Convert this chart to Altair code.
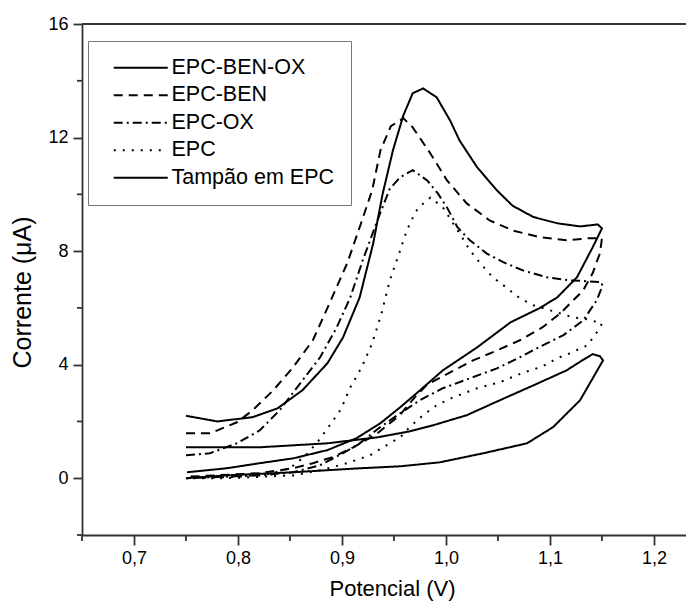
import altair as alt
import pandas as pd

# ---- data (potential in V, current in µA) ----
series_names = ["EPC-BEN-OX", "EPC-BEN", "EPC-OX", "EPC", "Tampão em EPC"]

benox_fwd_x = [0.75, 0.78, 0.814, 0.838, 0.862, 0.886, 0.901, 0.917, 0.930, 0.939, 0.949, 0.959, 0.968, 0.978, 0.991, 1.004, 1.013, 1.030, 1.049, 1.064, 1.084, 1.107, 1.129, 1.146, 1.15]
benox_fwd_y = [2.2, 2.0, 2.15, 2.46, 3.1, 4.05, 4.96, 6.37, 8.27, 10.0, 11.55, 12.78, 13.56, 13.73, 13.42, 12.6, 11.9, 10.95, 10.14, 9.6, 9.2, 8.98, 8.87, 8.94, 8.8]
benox_rev_x = [1.141, 1.126, 1.107, 1.090, 1.062, 1.030, 0.997, 0.972, 0.956, 0.937, 0.914, 0.886, 0.853, 0.821, 0.789, 0.751]
benox_rev_y = [8.13, 7.08, 6.37, 5.99, 5.49, 4.61, 3.8, 3.0, 2.5, 1.94, 1.41, 0.99, 0.7, 0.53, 0.35, 0.21]

ben_fwd_x = [0.75, 0.773, 0.799, 0.814, 0.834, 0.853, 0.872, 0.888, 0.905, 0.917, 0.929, 0.937, 0.947, 0.959, 0.968, 0.985, 1.001, 1.02, 1.042, 1.064, 1.09, 1.116, 1.136, 1.15]
ben_fwd_y = [1.58, 1.58, 1.97, 2.39, 3.1, 3.91, 4.86, 6.16, 7.57, 8.84, 10.14, 11.55, 12.4, 12.68, 12.36, 11.44, 10.49, 9.68, 9.08, 8.73, 8.49, 8.38, 8.45, 8.45]
ben_rev_x = [1.148, 1.141, 1.132, 1.11, 1.093, 1.071, 1.049, 1.026, 1.004, 0.982, 0.970, 0.955, 0.934, 0.911, 0.891, 0.872, 0.853, 0.821, 0.75]
ben_rev_y = [7.92, 7.22, 6.62, 5.81, 5.32, 4.86, 4.5, 4.15, 3.73, 3.3, 2.85, 2.2, 1.58, 1.09, 0.74, 0.53, 0.35, 0.18, 0.05]

ox_fwd_x = [0.75, 0.773, 0.799, 0.821, 0.84, 0.86, 0.879, 0.895, 0.908, 0.92, 0.934, 0.946, 0.956, 0.968, 0.982, 0.992, 1.001, 1.011, 1.023, 1.039, 1.055, 1.074, 1.097, 1.119, 1.136, 1.15]
ox_fwd_y = [0.81, 0.88, 1.23, 1.69, 2.39, 3.35, 4.26, 5.32, 6.37, 7.68, 9.08, 10.2, 10.6, 10.85, 10.49, 10.04, 9.54, 8.84, 8.38, 7.92, 7.61, 7.32, 7.08, 6.97, 6.94, 6.9]
ox_rev_x = [1.15, 1.145, 1.132, 1.113, 1.093, 1.071, 1.049, 1.023, 0.997, 0.975, 0.956, 0.935, 0.917, 0.901, 0.879, 0.853, 0.821, 0.75]
ox_rev_y = [6.73, 6.27, 5.56, 5.04, 4.68, 4.26, 3.87, 3.52, 3.17, 2.75, 2.29, 1.75, 1.23, 0.88, 0.46, 0.21, 0.1, 0.0]

epc_fwd_x = [0.75, 0.80, 0.83, 0.85, 0.865, 0.877, 0.887, 0.899, 0.908, 0.919, 0.929, 0.938, 0.946, 0.956, 0.962, 0.967, 0.973, 0.985, 0.997, 1.013, 1.023, 1.033, 1.045, 1.059, 1.071, 1.084, 1.097, 1.122, 1.136, 1.15]
epc_fwd_y = [0.0, 0.05, 0.15, 0.35, 0.8, 1.3, 1.8, 2.43, 3.2, 3.91, 4.75, 5.81, 6.97, 8.03, 8.7, 9.1, 9.51, 9.89, 9.54, 8.63, 8.03, 7.57, 7.08, 6.69, 6.34, 6.09, 5.95, 5.67, 5.6, 5.45]
epc_rev_x = [1.145, 1.136, 1.119, 1.107, 1.093, 1.081, 1.068, 1.052, 1.03, 1.007, 0.991, 0.978, 0.965, 0.956, 0.946, 0.927, 0.905, 0.879, 0.853, 0.789, 0.75]
epc_rev_y = [5.14, 4.68, 4.4, 4.23, 3.94, 3.8, 3.63, 3.38, 3.17, 2.85, 2.57, 2.22, 1.8, 1.44, 1.23, 0.81, 0.53, 0.28, 0.1, 0.0, 0.0]

tamp_fwd_x = [0.75, 0.821, 0.886, 0.934, 0.965, 0.988, 1.02, 1.052, 1.084, 1.116, 1.131, 1.141, 1.148]
tamp_fwd_y = [1.09, 1.09, 1.23, 1.44, 1.65, 1.87, 2.22, 2.75, 3.27, 3.8, 4.15, 4.37, 4.3]
tamp_rev_x = [1.151, 1.129, 1.103, 1.078, 1.036, 0.994, 0.956, 0.917, 0.853, 0.789, 0.75]
tamp_rev_y = [4.15, 2.75, 1.8, 1.23, 0.88, 0.56, 0.42, 0.35, 0.21, 0.1, 0.0]

x_major = [0.7, 0.8, 0.9, 1.0, 1.1, 1.2]
x_minor = [0.65, 0.75, 0.85, 0.95, 1.05, 1.15]
y_major = [0, 4, 8, 12, 16]
y_minor = [-2, 2, 6, 10, 14]

# ---- build table ----
curves = [
    (series_names[0], benox_fwd_x + benox_rev_x, benox_fwd_y + benox_rev_y),
    (series_names[1], ben_fwd_x + ben_rev_x, ben_fwd_y + ben_rev_y),
    (series_names[2], ox_fwd_x + ox_rev_x, ox_fwd_y + ox_rev_y),
    (series_names[3], epc_fwd_x + epc_rev_x, epc_fwd_y + epc_rev_y),
    (series_names[4], tamp_fwd_x + tamp_rev_x, tamp_fwd_y + tamp_rev_y),
]
rows = []
for name, xs, ys in curves:
    for i, (xv, yv) in enumerate(zip(xs, ys)):
        rows.append({"serie": name, "E": xv, "I": yv, "idx": i})
df = pd.DataFrame(rows)

W, H = 604, 511
XDOM = [0.65, 1.2308]
YDOM = [-2, 16]
FONT = "Liberation Sans"
AX = "#333333"

xscale = alt.Scale(domain=XDOM, nice=False, zero=False)
yscale = alt.Scale(domain=YDOM, nice=False, zero=False)

xaxis = alt.Axis(values=x_major, grid=False,
                 labelExpr="replace(format(datum.value, '.1f'), '.', ',')",
                 labelFont=FONT, labelFontSize=18, labelColor="black", labelPadding=4,
                 tickSize=10, tickWidth=1.8, tickColor=AX,
                 domainColor=AX, domainWidth=1.8,
                 title="Potencial (V)", titleFont=FONT, titleFontSize=22,
                 titleFontWeight="normal", titleColor="black",
                 titleX=310, titleY=53, titleBaseline="middle", titleAlign="center")
yaxis = alt.Axis(values=y_major, grid=False, format="d",
                 labelFont=FONT, labelFontSize=18, labelColor="black", labelPadding=5,
                 tickSize=9, tickWidth=1.8, tickColor=AX,
                 domainColor=AX, domainWidth=1.8,
                 title="Corrente (μA)", titleFont=FONT, titleFontSize=25,
                 titleFontWeight="normal", titleColor="black",
                 titleX=-60, titleY=268, titleBaseline="middle", titleAlign="center",
                 titleAngle=270)

lines = alt.Chart(df).mark_line(strokeWidth=2, color="black").encode(
    x=alt.X("E:Q", scale=xscale, axis=xaxis),
    y=alt.Y("I:Q", scale=yscale, axis=yaxis),
    strokeDash=alt.StrokeDash(
        "serie:N",
        scale=alt.Scale(domain=series_names,
                        range=[[1, 0], [9, 6], [9, 4, 2, 4], [2, 7], [1, 0]]),
        sort=series_names,
        legend=alt.Legend(title=None, orient="none", legendX=6, legendY=17,
                          symbolType="M-3,0L3,0", symbolSize=324, symbolStrokeWidth=2,
                          symbolStrokeColor="black", symbolOffset=26,
                          labelFont=FONT, labelFontSize=21.5, labelColor="black",
                          labelOffset=20, labelLimit=400, rowPadding=4.5,
                          padding=16, strokeColor="#777777", fillColor="white"),
    ),
    order=alt.Order("idx:Q"),
)

xminor_df = pd.DataFrame({"E": x_minor})
yminor_df = pd.DataFrame({"I": y_minor})

xminor = alt.Chart(xminor_df).mark_rule(color=AX, strokeWidth=1.8).encode(
    x=alt.X("E:Q", scale=xscale),
    y=alt.value(H), y2=alt.value(H + 6),
)
yminor = alt.Chart(yminor_df).mark_rule(color=AX, strokeWidth=1.8).encode(
    y=alt.Y("I:Q", scale=yscale),
    x=alt.value(-5), x2=alt.value(0),
)
topline = alt.Chart(xminor_df).mark_rule(color=AX, strokeWidth=1.8).encode(
    x=alt.value(0), x2=alt.value(W), y=alt.value(0),
)

chart = alt.layer(lines, xminor, yminor, topline).properties(
    width=W, height=H,
    autosize="none",
    padding={"left": 74, "top": 16, "right": 0, "bottom": 70},
).configure_view(stroke=None).configure(background="white")

chart.save("out.html", embed_options={"renderer": "svg", "actions": False})
